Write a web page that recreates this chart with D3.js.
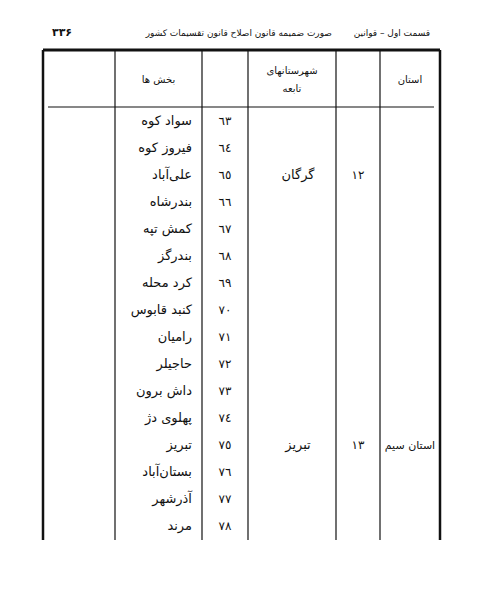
<!DOCTYPE html>
<html><head><meta charset="utf-8">
<script src="https://cdn.jsdelivr.net/npm/d3@7"></script>
<style>body{margin:0;background:#fff}</style>
</head><body>
<svg id="page" width="478" height="600"></svg>
<script>
const pageTitle = 'صورت ضمیمه قانون اصلاح قانون تقسیمات کشور'
const sectionTitle = 'قسمت اول – قوانین'
const pageNumber = '۳۳۶'
const headers = ['', 'بخش ها', '', 'شهرستانهای|تابعه', '', 'استان']
const bakhshNumbers = ['٦٣','٦٤','٦٥','٦٦','٦٧','٦٨','٦٩','٧٠','٧١','٧٢','٧٣','٧٤','٧٥','٧٦','٧٧','٧٨']
const bakhshNames = ['سواد کوه','فیروز کوه','علی‌آباد','بندرشاه','کمش تپه','بندرگز','کرد محله','کنبد قابوس','رامیان','حاجیلر','داش برون','پهلوی دژ','تبریز','بستان‌آباد','آذرشهر','مرند']
const shahrestans = [{name: 'گرگان', num: '۱۲', at: 2}, {name: 'تبریز', num: '۱۳', at: 12}]
const ostans = [{name: 'استان سیم', at: 12}]

const svg = d3.select('#page')
const font = '"DejaVu Sans", "Noto Sans", sans-serif'
const cols = [43, 115, 202, 248, 336, 380, 440]
const y = d3.scaleBand().domain(d3.range(bakhshNumbers.length)).range([108, 540])
const yc = i => y(i) + y.bandwidth() / 2

const txt = (x, yy, s, size, anchor) => svg.append('text').attr('x', x).attr('y', yy)
  .attr('direction', 'rtl').attr('text-anchor', anchor || 'middle').attr('dominant-baseline', 'middle')
  .attr('font-size', size).attr('font-family', font).attr('fill', '#111').text(s)

txt(430, 33, sectionTitle, 9, 'start')
txt(332, 33, pageTitle, 9, 'start')
txt(62, 33, pageNumber, 11, 'middle').attr('font-weight', 'bold')

const line = (x1, y1, x2, y2, w) => svg.append('line').attr('x1', x1).attr('y1', y1).attr('x2', x2).attr('y2', y2).attr('stroke', '#111').attr('stroke-width', w)
line(43, 50, 440, 50, 3)
line(48, 107, 434, 107, 1.2)
cols.forEach((x, i) => line(x, 50, x, 540, i === 0 || i === 6 ? 2.5 : 1.2))

headers.forEach((h, i) => {
  const parts = h.split('|')
  const cx = (cols[i] + cols[i + 1]) / 2
  parts.forEach((p, j) => txt(cx, 80 + (j - (parts.length - 1) / 2) * 18, p, 10))
})

bakhshNumbers.forEach((d, i) => txt((cols[2] + cols[3]) / 2, yc(i), d, 12))
bakhshNames.forEach((d, i) => txt(cols[2] - 10, yc(i), d, 13, 'start'))

shahrestans.forEach(s => {
  txt((cols[3] + cols[4]) / 2 + 6, yc(s.at), s.name, 13)
  txt((cols[4] + cols[5]) / 2, yc(s.at), s.num, 12)
})
ostans.forEach(o => txt((cols[5] + cols[6]) / 2, yc(o.at), o.name, 11))
</script>
</body></html>
